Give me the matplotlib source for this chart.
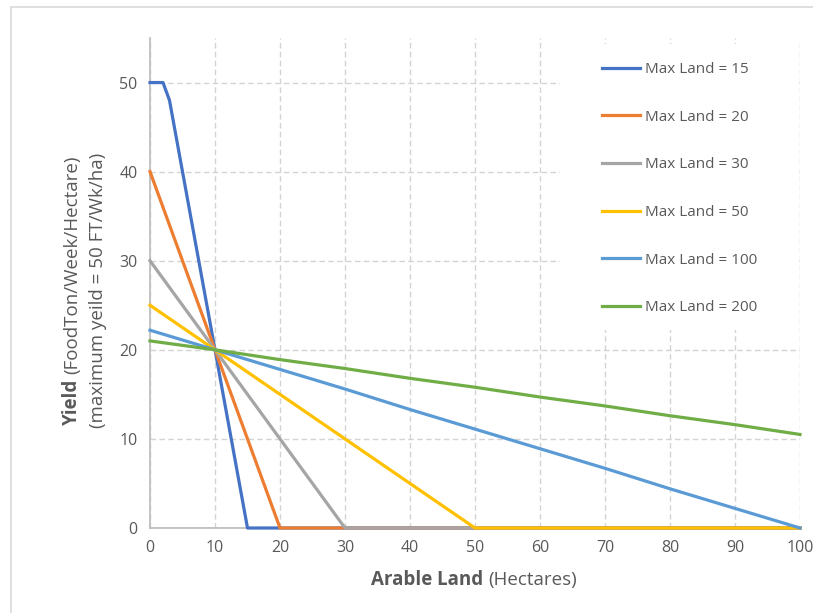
import matplotlib
matplotlib.use("Agg")
import matplotlib.pyplot as plt
from matplotlib.patches import Rectangle

plt.rcParams['font.family'] = ['Open Sans', 'DejaVu Sans']

# ---- data -------------------------------------------------------------
series_labels = ["Max Land = 15", "Max Land = 20", "Max Land = 30",
                 "Max Land = 50", "Max Land = 100", "Max Land = 200"]

land_15 = [0, 2, 3, 10, 15, 100]
yield_15 = [50, 50, 48, 20, 0, 0]

land_20 = [0, 10, 20, 100]
yield_20 = [40, 20, 0, 0]

land_30 = [0, 10, 20, 30, 100]
yield_30 = [30, 20, 10, 0, 0]

land_50 = [0, 10, 20, 30, 40, 50, 100]
yield_50 = [25, 20, 15, 10, 5, 0, 0]

land_100 = [0, 10, 20, 30, 40, 50, 60, 70, 80, 90, 100]
yield_100 = [22.2, 20, 17.8, 15.6, 13.3, 11.1, 8.9, 6.7, 4.4, 2.2, 0]

land_200 = [0, 10, 20, 30, 40, 50, 60, 70, 80, 90, 100]
yield_200 = [21.0, 20, 18.9, 17.9, 16.8, 15.8, 14.7, 13.7, 12.6, 11.6, 10.5]

x_ticks = [0, 10, 20, 30, 40, 50, 60, 70, 80, 90, 100]
y_ticks = [0, 10, 20, 30, 40, 50]

colors = ["#4472C4", "#ED7D31", "#A5A5A5", "#FFC000", "#5B9BD5", "#70AD47"]

# ---- figure -----------------------------------------------------------
W, H = 813, 613
fig = plt.figure(figsize=(W / 100, H / 100), dpi=100)

def fx(px):
    return px / W

def fy(py):
    return 1 - py / H

# chart-area border (top and left edges visible)
fig.patches.append(Rectangle((fx(11), fy(H + 20)), fx(W + 20), (H + 20 - 7) / H,
                             transform=fig.transFigure, fill=False,
                             edgecolor="#d9d9d9", lw=1.2))

ax = fig.add_axes([fx(150), fy(528), fx(800) - fx(150), fy(38) - fy(528)])
ax.set_xlim(0, 100)
ax.set_ylim(0, 55)

grid_kw = dict(color="#d3d3d3", lw=1.0, linestyle=(0, (4.0, 2.4)))
ax.set_axisbelow(True)
ax.set_xticks(x_ticks)
ax.set_yticks(y_ticks)
ax.grid(True, **grid_kw)

for side in ("top", "right"):
    ax.spines[side].set_visible(False)
for side in ("left", "bottom"):
    ax.spines[side].set_color("#bfbfbf")
    ax.spines[side].set_linewidth(1.3)

ax.tick_params(length=0, labelsize=11.5, labelcolor="#595959")
ax.tick_params(axis="y", pad=9)
ax.tick_params(axis="x", pad=9)

data = [(land_15, yield_15), (land_20, yield_20), (land_30, yield_30),
        (land_50, yield_50), (land_100, yield_100), (land_200, yield_200)]
handles = []
for (xs, ys), c, lab in zip(data, colors, series_labels):
    ln, = ax.plot(xs, ys, color=c, lw=2.3, label=lab, solid_joinstyle="round",
                  clip_on=False, zorder=3)
    handles.append(ln)

# white legend panel over the grid
ax.add_patch(Rectangle((fx(560), fy(330)), fx(797) - fx(560), fy(44) - fy(330),
                       transform=fig.transFigure, facecolor="white",
                       edgecolor="none", zorder=1))
leg = fig.legend(handles=handles, loc="upper left",
                 bbox_to_anchor=(fx(602), fy(62)), frameon=False,
                 fontsize=11, labelcolor="#595959", handlelength=2.5,
                 handletextpad=0.3, labelspacing=2.14, borderpad=0,
                 borderaxespad=0)

# ---- axis titles with a bold lead word ----------------------------------
renderer = fig.canvas.get_renderer()

def mixed_title(parts, cx, cy, rotation, size):
    texts = []
    for s, weight in parts:
        t = fig.text(0, 0, s, fontsize=size, fontweight=weight, color="#595959",
                     rotation=rotation, rotation_mode="anchor",
                     ha="left", va="center")
        texts.append(t)
    gap = size * 100 / 72 * 0.28
    lens = []
    for t in texts:
        bb = t.get_window_extent(renderer)
        lens.append(bb.width if rotation == 0 else bb.height)
    total = sum(lens) + gap * (len(texts) - 1)
    pos = (cx - total / 2) if rotation == 0 else (cy + total / 2)
    for t, L in zip(texts, lens):
        if rotation == 0:
            t.set_position((fx(pos), fy(cy)))
            pos += L + gap
        else:
            t.set_position((fx(cx), fy(pos)))
            pos -= L + gap

mixed_title([("Arable Land", "bold"), ("(Hectares)", "normal")], 474, 580, 0, 13.5)
mixed_title([("Yield", "bold"), ("(FoodTon/Week/Hectare)", "normal")], 72, 290, 90, 13.5)
mixed_title([("(maximum yeild = 50 FT/Wk/ha)", "normal")], 98, 290, 90, 13.5)

fig.savefig("out.png", dpi=100)
